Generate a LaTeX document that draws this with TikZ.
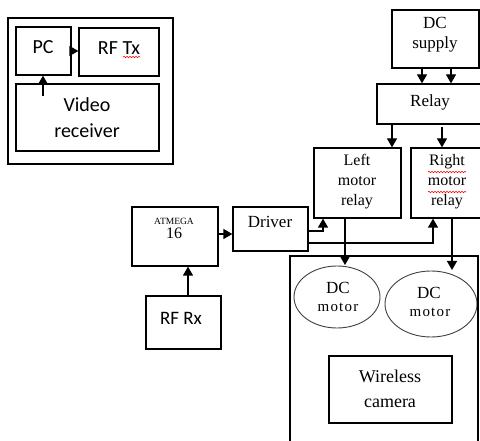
\documentclass[tikz,border=0pt]{standalone}
\usepackage{fontspec}
\setmainfont{Liberation Serif}
\newfontfamily\carl{Carlito}
\usetikzlibrary{arrows.meta,shapes.geometric,decorations.pathmorphing}
\newcommand{\mtr}{\fontsize{15}{15}\selectfont m\kern1.2pt o\kern1.2pt t\kern1.2pt o\kern1.2pt r}
\begin{document}
\begin{tikzpicture}[x=1pt,y=-1pt,
 box/.style={draw, line width=1.3pt, inner sep=0pt},
 txt/.style={inner sep=0pt, align=center},
 arr/.style={line width=1.3pt, -{Triangle[length=9pt,width=10pt]}},
 ln/.style={line width=1.3pt},
 ell/.style={draw=black!75, ellipse, line width=0.9pt, inner sep=0pt},
 squig/.style={red, line width=0.6pt, decorate, decoration={snake, amplitude=0.7pt, segment length=3pt}},
 sansbig/.style={font=\carl\fontsize{20}{26}\selectfont},
 serif/.style={font=\fontsize{17}{20}\selectfont}
]
\useasboundingbox (0,0) rectangle (480,441);
% boxes
\node[box, minimum width=165, minimum height=146] (outer) at (90.5,91) {};
\node[box, minimum width=55, minimum height=48] (pc) at (43.5,51) {};
\node[box, minimum width=80, minimum height=48] (rftx) at (119,52) {};
\node[box, minimum width=143, minimum height=67] (vid) at (87.5,117.5) {};
\node[box, minimum width=87, minimum height=58] (dcs) at (435.5,39) {};
\node[box, minimum width=106, minimum height=40] (relay) at (430,104) {};
\node[box, minimum width=87, minimum height=70] (lmr) at (357.5,183) {};
\node[box, minimum width=72, minimum height=70] (rmr) at (447,183) {};
\node[box, minimum width=86, minimum height=59] (atm) at (175,236.5) {};
\node[box, minimum width=75, minimum height=44] (drv) at (270.5,229) {};
\node[box, minimum width=75, minimum height=53] (rfrx) at (183.5,322.5) {};
\node[box, minimum width=123, minimum height=67] (cam) at (390.5,389.5) {};
\node[ell, minimum width=86, minimum height=62] (m1) at (337,297) {};
\node[ell, minimum width=92, minimum height=66] (m2) at (431,304) {};
% robot body (open at bottom)
\draw[ln] (290,445) -- (290,256) -- (478,256) -- (478,445);
% texts
\node[txt, sansbig] (tpc) at (43,47) {PC};
\node[txt, sansbig] (ttx) at (119,48) {RF Tx};
\node[txt, sansbig] (tvid) at (87,118) {Video\\receiver};
\node[txt, serif] (tdcs) at (435,35) {DC\\supply};
\node[txt, serif] (trel) at (430,102) {Relay};
\node[txt, font=\fontsize{16}{20}\selectfont] (tlmr) at (357,182) {Left\\motor\\relay};
\node[txt, font=\fontsize{16}{20}\selectfont] (trmr) at (447,182) {Right\\motor\\relay};
\node[txt] (tatm) at (174,228) {\fontsize{9.5}{10}\selectfont ATMEGA\\[2pt]\fontsize{16}{16}\selectfont 16};
\node[txt, serif] (tdrv) at (270,222) {Driver};
\node[txt, font=\carl\fontsize{19}{24}\selectfont] (trx) at (181,318) {RF Rx};
\node[txt, font=\fontsize{17}{17}\selectfont] (tm1dc) at (338,288) {DC};
\node[txt] (tm1mo) at (338,307) {\mtr};
\node[txt, font=\fontsize{17}{17}\selectfont] (tm2dc) at (429,293) {DC};
\node[txt] (tm2mo) at (430,312) {\mtr};
\node[txt, font=\fontsize{18}{25}\selectfont] (tcam) at (390,389) {Wireless\\camera};
% spell-check squiggles
\draw[squig] (123,57) -- (140,57);
\draw[squig] (428,172) -- (466,172);
\draw[squig] (428,192) -- (466,192);
% connectors
\draw[arr] (pc.east) -- (pc.east -| rftx.west);
\coordinate (vs) at (43,96);
\draw[arr] (vs) -- (pc.south -| vs);
\coordinate (d1) at (422,0);
\coordinate (d2) at (451,0);
\draw[arr] (dcs.south -| d1) -- (relay.north -| d1);
\draw[arr] (dcs.south -| d2) -- (relay.north -| d2);
\coordinate (r1) at (392,0);
\coordinate (r2) at (442,127);
\draw[arr] (relay.south -| r1) -- (lmr.north -| r1);
\draw[arr] (r2) -- (rmr.north -| r2);
\coordinate (a1) at (0,234);
\draw[arr] (atm.east |- a1) -- (drv.west |- a1);
\coordinate (rx) at (188,0);
\draw[arr] (rfrx.north -| rx) -- (atm.south -| rx);
\coordinate (q1) at (323,231);
\coordinate (q2) at (433,243);
\draw[arr] (drv.east |- q1) -| (lmr.south -| q1);
\draw[arr] (drv.east |- q2) -| (rmr.south -| q2);
\coordinate (m1t) at (345,265);
\coordinate (m2t) at (452,270);
\draw[arr] (lmr.south -| m1t) -- (m1t);
\draw[arr] (rmr.south -| m2t) -- (m2t);
\end{tikzpicture}
\end{document}
